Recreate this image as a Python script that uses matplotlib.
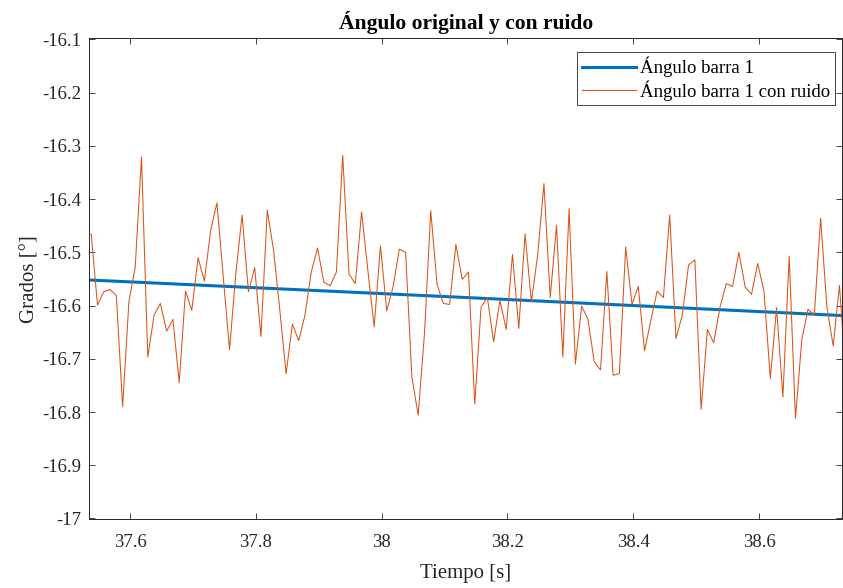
import numpy as np
import matplotlib
matplotlib.use("Agg")
import matplotlib.pyplot as plt

# ---- data ----
t_start = 37.538
dt = 0.01
noisy_angle = [
    -16.465, -16.599, -16.574, -16.570, -16.581, -16.790, -16.593, -16.528, -16.321, -16.697,
    -16.618, -16.596, -16.648, -16.626, -16.745, -16.573, -16.609, -16.510, -16.554, -16.459,
    -16.407, -16.546, -16.683, -16.540, -16.430, -16.574, -16.529, -16.658, -16.421, -16.496,
    -16.609, -16.728, -16.635, -16.666, -16.618, -16.537, -16.492, -16.556, -16.563, -16.537,
    -16.318, -16.541, -16.559, -16.424, -16.534, -16.640, -16.488, -16.610, -16.565, -16.494,
    -16.500, -16.734, -16.806, -16.653, -16.422, -16.560, -16.596, -16.598, -16.485, -16.551,
    -16.537, -16.785, -16.603, -16.585, -16.668, -16.590, -16.645, -16.504, -16.643, -16.465,
    -16.593, -16.506, -16.371, -16.585, -16.449, -16.697, -16.418, -16.710, -16.601, -16.626,
    -16.706, -16.721, -16.536, -16.731, -16.728, -16.490, -16.598, -16.564, -16.685, -16.628,
    -16.573, -16.585, -16.430, -16.662, -16.618, -16.524, -16.514, -16.795, -16.645, -16.670,
    -16.603, -16.559, -16.564, -16.500, -16.565, -16.579, -16.521, -16.574, -16.737, -16.604,
    -16.772, -16.507, -16.812, -16.665, -16.607, -16.618, -16.436, -16.603, -16.676, -16.562,
    -16.734,
]
orig_time = [37.535, 38.135, 38.735]
orig_angle = [-16.552, -16.585, -16.619]

x_ticks = [37.6, 37.8, 38.0, 38.2, 38.4, 38.6]
x_tick_labels = ["37.6", "37.8", "38", "38.2", "38.4", "38.6"]
y_ticks = [-17.0, -16.9, -16.8, -16.7, -16.6, -16.5, -16.4, -16.3, -16.2, -16.1]
y_tick_labels = ["-17", "-16.9", "-16.8", "-16.7", "-16.6", "-16.5", "-16.4", "-16.3", "-16.2", "-16.1"]

noisy_time = [t_start + dt * i for i in range(len(noisy_angle))]

plt.rcParams['font.family'] = ['Liberation Serif', 'DejaVu Serif']
axc = (0.15, 0.15, 0.15)

W, H = 843, 588
fig = plt.figure(figsize=(W / 100, H / 100), dpi=100)
ax = fig.add_axes([89.3 / W, 1 - 519 / H, (842 - 89.3) / W, (519 - 38.3) / H])

ax.plot(orig_time, orig_angle, color='#0072BD', lw=2.2, label='Ángulo barra 1')
ax.plot(noisy_time, noisy_angle, color='#D95319', lw=0.75, label='Ángulo barra 1 con ruido')

ax.set_xlim(37.535, 38.732)
ax.set_ylim(-17.001, -16.098)
ax.set_xticks(x_ticks)
ax.set_xticklabels(x_tick_labels)
ax.set_yticks(y_ticks)
ax.set_yticklabels(y_tick_labels)

ax.tick_params(direction='in', length=4.5, width=0.6, colors=axc, labelsize=13.5,
               top=True, right=True)
ax.tick_params(axis='y', pad=6)
ax.tick_params(axis='x', pad=11)
for s in ax.spines.values():
    s.set_color(axc)
    s.set_linewidth(0.7)

ax.set_title('Ángulo original y con ruido', fontsize=15.5, fontweight='bold', pad=7)
ax.set_xlabel('Tiempo [s]', fontsize=15, color=axc, labelpad=9)
ax.set_ylabel('Grados [°]', fontsize=15, color=axc, labelpad=2)

leg = ax.legend(loc='upper right', bbox_to_anchor=(835 / W, 1 - 52.3 / H),
                bbox_transform=fig.transFigure, borderaxespad=0, fontsize=13.5,
                fancybox=False, edgecolor=axc, framealpha=1, handlelength=2.9,
                handletextpad=0.2, labelspacing=0.15, borderpad=0.25)
leg.get_frame().set_linewidth(0.6)
for txt in leg.get_texts():
    txt.set_color('black')

fig.savefig('out.png', dpi=100)
